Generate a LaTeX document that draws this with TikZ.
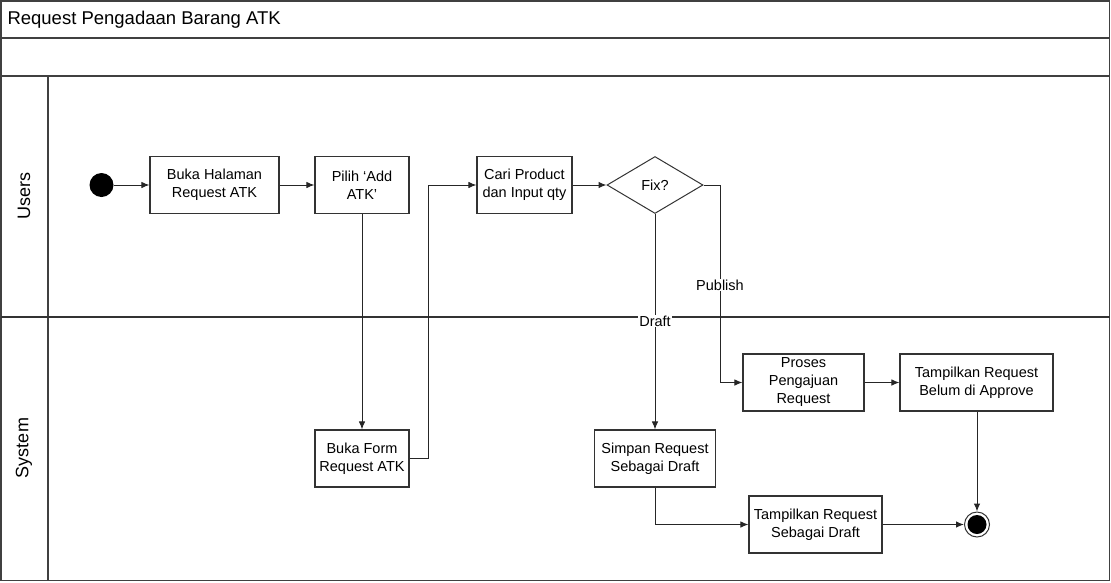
\documentclass[tikz,border=0pt]{standalone}
\usepackage{fontspec}
\setmainfont{Liberation Sans}
\usetikzlibrary{arrows.meta,shapes.geometric}
\begin{document}
\begin{tikzpicture}[x=1pt,y=-1pt,
  frameline/.style={draw=black!75,line width=1.1pt},
  act/.style={draw=black!80,line width=1.1pt,rectangle,align=center,inner sep=0pt,
    minimum height=57pt,font=\fontsize{14.5}{18}\selectfont},
  decision/.style={draw=black!80,line width=1pt,diamond,inner sep=0pt,
    minimum width=96pt,minimum height=57pt,font=\fontsize{14.5}{18}\selectfont},
  flow/.style={draw=black!85,line width=1pt,-{Latex[length=8pt,width=6.5pt]}},
  guard/.style={fill=white,inner sep=1pt,font=\fontsize{14.5}{18}\selectfont},
  lanelabel/.style={rotate=90,font=\fontsize{18}{22}\selectfont}]
\useasboundingbox (0,0) rectangle (1111,582);

% pool frame, title row and swimlanes
\draw[frameline] (1,1) rectangle (1109.5,580.5);
\draw[frameline] (1,38) -- (1109.5,38);
\draw[frameline] (1,76) -- (1109.5,76);
\draw[frameline] (48,76) -- (48,580.5);
\draw[draw=black!80,line width=2pt] (1,316.5) -- (1109.5,316.5);
\node[anchor=west,font=\fontsize{18.5}{22}\selectfont] (title) at (4,20) {Request Pengadaan Barang ATK};
\node[lanelabel] (users) at (24,196) {Users};
\node[lanelabel] (system) at (24,448) {System};

% activities
\node[circle,fill=black,minimum size=24pt,inner sep=0pt] (start) at (101.5,185) {};
\node[act,minimum width=129pt] (buka) at (214.5,185) {Buka Halaman\\Request ATK};
\node[act,minimum width=94pt] (pilih) at (362,185) {Pilih ‘Add\\ATK’};
\node[act,minimum width=95pt] (cari) at (524.5,185) {Cari Product\\dan Input qty};
\node[decision] (fix) at (655,185) {Fix?};
\node[act,minimum width=94pt] (form) at (362,458.5) {Buka Form\\Request ATK};
\node[act,minimum width=121pt] (simpan) at (655,458.5) {Simpan Request\\Sebagai Draft};
\node[act,minimum width=121pt] (proses) at (803.5,382.5) {Proses\\Pengajuan\\Request};
\node[act,minimum width=153pt] (belum) at (976.5,382.5) {Tampilkan Request\\Belum di Approve};
\node[act,minimum width=133pt] (draft) at (815.5,524.5) {Tampilkan Request\\Sebagai Draft};
\node[circle,draw=black!80,line width=1pt,minimum size=25pt,inner sep=0pt] (end) at (977,524.5) {};
\fill (end.center) circle (9.5);

% control flow
\draw[flow] (start) -- (buka);
\draw[flow] (buka) -- (pilih);
\draw[flow] (pilih) -- (form);
\draw[flow] (form.east) -- ++(19,0) |- (cari.west);
\draw[flow] (cari) -- (fix);
\draw[flow] (fix.south) -- (simpan.north);
\node[guard] (draftlbl) at (655,321) {Draft};
\draw[flow] (fix.east) -- ++(17,0) coordinate (turn) |- (proses.west);
\node[guard] (publish) at (720,285) {Publish};
\draw[flow] (proses) -- (belum);
\draw[flow] (simpan.south) |- (draft.west);
\draw[flow] (draft) -- (end);
\draw[flow] (belum.south -| end) -- (end);
\end{tikzpicture}
\end{document}
